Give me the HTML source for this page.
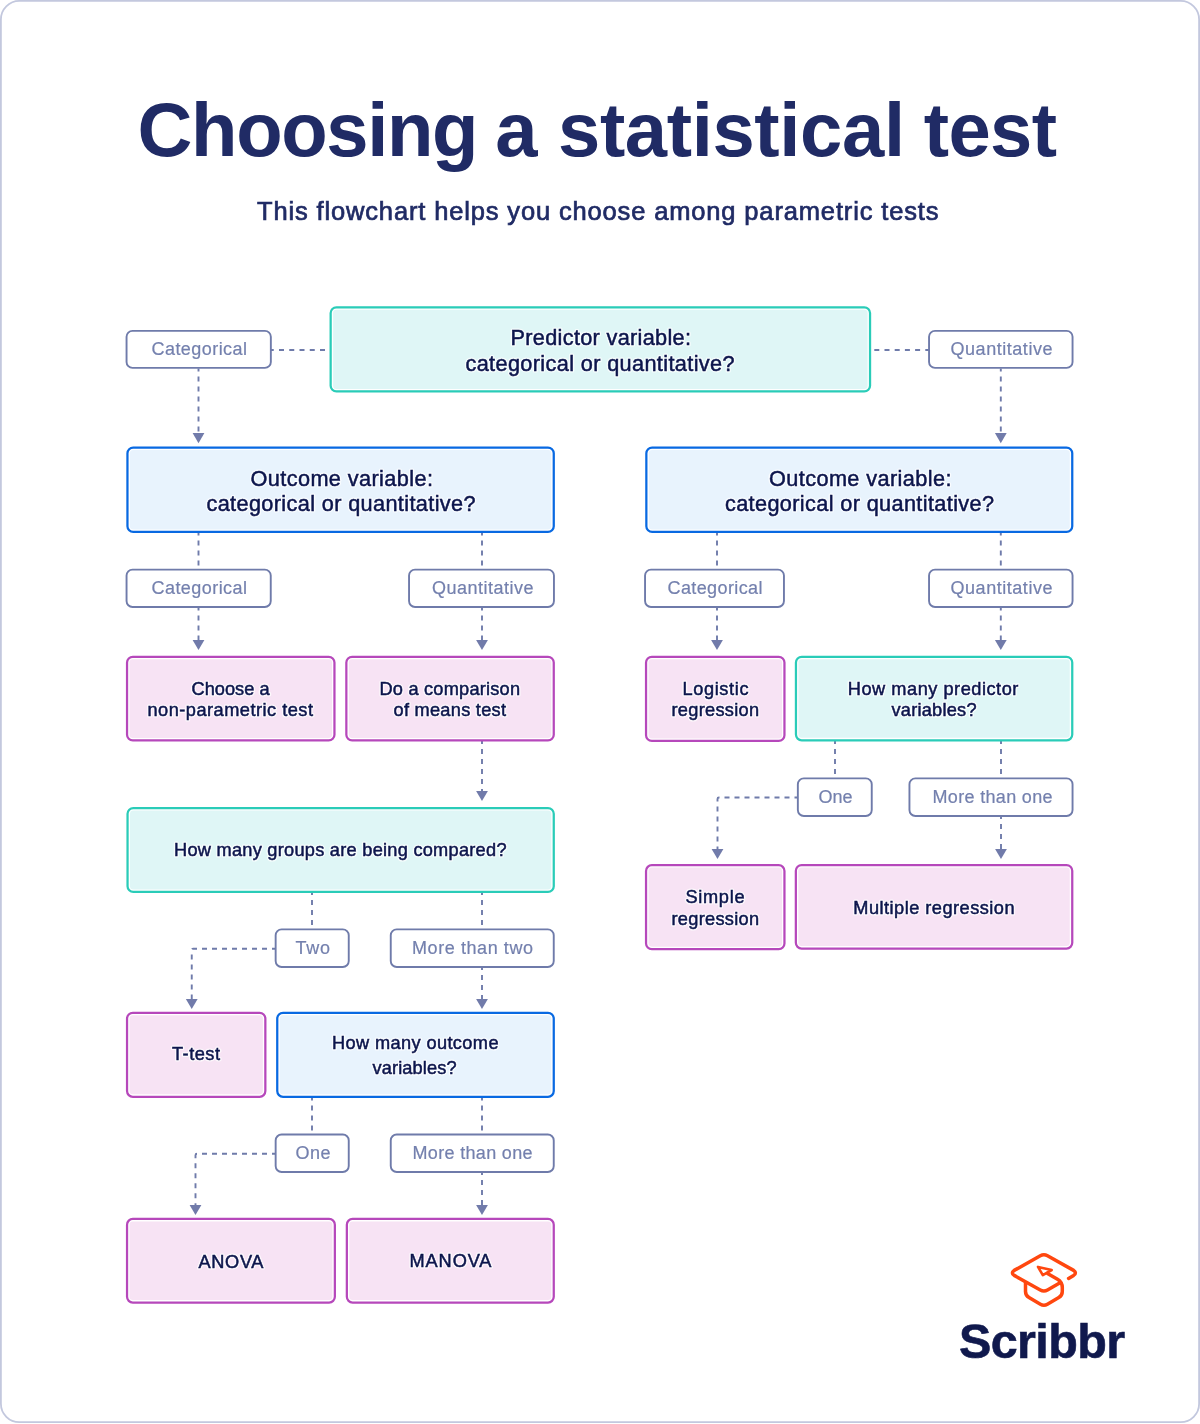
<!DOCTYPE html>
<html><head><meta charset="utf-8"><title>Choosing a statistical test</title>
<style>
html,body{margin:0;padding:0;background:#fff;}
svg{display:block;font-family:"Liberation Sans",sans-serif;will-change:transform;transform:translateZ(0);filter:blur(0.35px);}
.d{fill:none;stroke:#6f7baa;stroke-width:1.9;stroke-dasharray:5 5;stroke-dashoffset:2;}
text{white-space:pre;}
</style></head>
<body>
<svg width="1200" height="1424" viewBox="0 0 1200 1424">
<rect x="0.9" y="0.9" width="1198.2" height="1421.3" rx="18.5" fill="#ffffff" stroke="#c3c8de" stroke-width="1.8"/>
<text x="137.60" y="155.60" font-size="76" font-weight="bold" textLength="340.90" lengthAdjust="spacing" fill="#202b65">Choosing</text>
<text x="495.25" y="155.60" font-size="76" font-weight="bold" textLength="41.25" lengthAdjust="spacing" fill="#202b65">a</text>
<text x="558.00" y="155.60" font-size="76" font-weight="bold" textLength="347.00" lengthAdjust="spacing" fill="#202b65">statistical</text>
<text x="923.80" y="155.60" font-size="76" font-weight="bold" textLength="133.20" lengthAdjust="spacing" fill="#202b65">test</text>
<text x="257.00" y="220.00" font-size="25.5" font-weight="normal" textLength="681.50" lengthAdjust="spacing" fill="#202b65" stroke="#202b65" stroke-width="0.7">This flowchart helps you choose among parametric tests</text>
<path d="M268.75 350H325.2" class="d" style="stroke-dasharray:5 5.25;stroke-dashoffset:0"/>
<path d="M874.3 350H930" class="d" style="stroke-dasharray:5 5.2;stroke-dashoffset:0"/>
<path d="M198.50 368.50V433.70" class="d"/>
<path d="M192.60 433.10H204.40L198.50 443.20Z" fill="#717baa"/>
<path d="M1000.80 368.50V433.70" class="d"/>
<path d="M994.90 433.10H1006.70L1000.80 443.20Z" fill="#717baa"/>
<path d="M198.50 532.50V569.50" class="d"/>
<path d="M198.50 607.50V640.50" class="d"/>
<path d="M192.60 639.90H204.40L198.50 650.00Z" fill="#717baa"/>
<path d="M482.00 532.50V569.50" class="d"/>
<path d="M482.00 607.50V640.50" class="d"/>
<path d="M476.10 639.90H487.90L482.00 650.00Z" fill="#717baa"/>
<path d="M717.00 532.50V569.50" class="d"/>
<path d="M717.00 607.50V640.50" class="d"/>
<path d="M711.10 639.90H722.90L717.00 650.00Z" fill="#717baa"/>
<path d="M1000.80 532.50V569.50" class="d"/>
<path d="M1000.80 607.50V640.50" class="d"/>
<path d="M994.90 639.90H1006.70L1000.80 650.00Z" fill="#717baa"/>
<path d="M482.00 741.00V791.50" class="d"/>
<path d="M476.10 790.90H487.90L482.00 801.00Z" fill="#717baa"/>
<path d="M312.00 892.00V929.00" class="d"/>
<path d="M482.00 892.00V929.00" class="d"/>
<path d="M482.00 967.00V999.50" class="d"/>
<path d="M476.10 998.90H487.90L482.00 1009.00Z" fill="#717baa"/>
<path d="M275.00 948.75H193.25Q191.75 948.75 191.75 950.25V999.50" class="d"/>
<path d="M185.85 998.90H197.65L191.75 1009.00Z" fill="#717baa"/>
<path d="M312.00 1097.50V1134.00" class="d"/>
<path d="M482.00 1097.50V1134.00" class="d"/>
<path d="M482.00 1172.00V1205.50" class="d"/>
<path d="M476.10 1204.90H487.90L482.00 1215.00Z" fill="#717baa"/>
<path d="M275.00 1153.75H197.00Q195.50 1153.75 195.50 1155.25V1205.50" class="d"/>
<path d="M189.60 1204.90H201.40L195.50 1215.00Z" fill="#717baa"/>
<path d="M835.00 741.00V778.00" class="d"/>
<path d="M1001.00 741.00V778.00" class="d"/>
<path d="M1001.00 816.00V849.50" class="d"/>
<path d="M995.10 848.90H1006.90L1001.00 859.00Z" fill="#717baa"/>
<path d="M797.50 797.50H719.00Q717.50 797.50 717.50 799.00V849.50" class="d"/>
<path d="M711.60 848.90H723.40L717.50 859.00Z" fill="#717baa"/>
<rect x="330.65" y="307.35" width="539.40" height="84.10" rx="5.77" fill="#ffffff" stroke="#2accb8" stroke-width="2.25"/>
<rect x="333.13" y="309.83" width="534.45" height="79.15" rx="3.30" fill="#dff6f6"/>
<rect x="127.55" y="808.05" width="426.20" height="83.90" rx="5.77" fill="#ffffff" stroke="#2accb8" stroke-width="2.25"/>
<rect x="130.03" y="810.52" width="421.25" height="78.95" rx="3.30" fill="#dff6f6"/>
<rect x="795.95" y="656.85" width="276.30" height="83.50" rx="5.77" fill="#ffffff" stroke="#2accb8" stroke-width="2.25"/>
<rect x="798.42" y="659.32" width="271.35" height="78.55" rx="3.30" fill="#dff6f6"/>
<rect x="127.45" y="447.55" width="426.30" height="84.40" rx="5.77" fill="#ffffff" stroke="#0869e2" stroke-width="2.25"/>
<rect x="129.93" y="450.03" width="421.35" height="79.45" rx="3.30" fill="#e8f3fd"/>
<rect x="646.35" y="447.55" width="425.90" height="84.40" rx="5.77" fill="#ffffff" stroke="#0869e2" stroke-width="2.25"/>
<rect x="648.82" y="450.03" width="420.95" height="79.45" rx="3.30" fill="#e8f3fd"/>
<rect x="277.25" y="1012.85" width="276.50" height="84.00" rx="5.77" fill="#ffffff" stroke="#0869e2" stroke-width="2.25"/>
<rect x="279.73" y="1015.32" width="271.55" height="79.05" rx="3.30" fill="#e8f3fd"/>
<rect x="127.05" y="656.85" width="207.40" height="83.60" rx="5.77" fill="#ffffff" stroke="#b648bb" stroke-width="2.25"/>
<rect x="129.53" y="659.32" width="202.45" height="78.65" rx="3.30" fill="#f7e3f4"/>
<rect x="346.35" y="656.85" width="207.40" height="83.60" rx="5.77" fill="#ffffff" stroke="#b648bb" stroke-width="2.25"/>
<rect x="348.83" y="659.32" width="202.45" height="78.65" rx="3.30" fill="#f7e3f4"/>
<rect x="646.05" y="656.85" width="138.40" height="84.10" rx="5.77" fill="#ffffff" stroke="#b648bb" stroke-width="2.25"/>
<rect x="648.52" y="659.32" width="133.45" height="79.15" rx="3.30" fill="#f7e3f4"/>
<rect x="646.05" y="865.15" width="138.40" height="84.00" rx="5.77" fill="#ffffff" stroke="#b648bb" stroke-width="2.25"/>
<rect x="648.52" y="867.62" width="133.45" height="79.05" rx="3.30" fill="#f7e3f4"/>
<rect x="795.85" y="865.05" width="276.40" height="83.50" rx="5.77" fill="#ffffff" stroke="#b648bb" stroke-width="2.25"/>
<rect x="798.32" y="867.52" width="271.45" height="78.55" rx="3.30" fill="#f7e3f4"/>
<rect x="127.05" y="1012.85" width="138.30" height="84.00" rx="5.77" fill="#ffffff" stroke="#b648bb" stroke-width="2.25"/>
<rect x="129.53" y="1015.32" width="133.35" height="79.05" rx="3.30" fill="#f7e3f4"/>
<rect x="127.05" y="1218.95" width="207.80" height="83.60" rx="5.77" fill="#ffffff" stroke="#b648bb" stroke-width="2.25"/>
<rect x="129.53" y="1221.42" width="202.85" height="78.65" rx="3.30" fill="#f7e3f4"/>
<rect x="346.85" y="1218.95" width="206.90" height="83.60" rx="5.77" fill="#ffffff" stroke="#b648bb" stroke-width="2.25"/>
<rect x="349.33" y="1221.42" width="201.95" height="78.65" rx="3.30" fill="#f7e3f4"/>
<rect x="126.55" y="330.85" width="144.30" height="37.00" rx="5.95" fill="#ffffff" stroke="#6f7baa" stroke-width="1.9"/>
<rect x="929.05" y="330.85" width="143.50" height="37.00" rx="5.95" fill="#ffffff" stroke="#6f7baa" stroke-width="1.9"/>
<rect x="126.55" y="569.65" width="144.20" height="37.30" rx="5.95" fill="#ffffff" stroke="#6f7baa" stroke-width="1.9"/>
<rect x="409.05" y="569.65" width="144.90" height="37.30" rx="5.95" fill="#ffffff" stroke="#6f7baa" stroke-width="1.9"/>
<rect x="645.05" y="569.65" width="138.90" height="37.30" rx="5.95" fill="#ffffff" stroke="#6f7baa" stroke-width="1.9"/>
<rect x="929.05" y="569.65" width="143.50" height="37.30" rx="5.95" fill="#ffffff" stroke="#6f7baa" stroke-width="1.9"/>
<rect x="275.65" y="929.35" width="73.10" height="37.60" rx="5.95" fill="#ffffff" stroke="#6f7baa" stroke-width="1.9"/>
<rect x="390.75" y="929.35" width="163.00" height="37.60" rx="5.95" fill="#ffffff" stroke="#6f7baa" stroke-width="1.9"/>
<rect x="797.85" y="778.35" width="73.90" height="37.60" rx="5.95" fill="#ffffff" stroke="#6f7baa" stroke-width="1.9"/>
<rect x="909.45" y="778.35" width="163.10" height="37.60" rx="5.95" fill="#ffffff" stroke="#6f7baa" stroke-width="1.9"/>
<rect x="275.65" y="1134.55" width="73.10" height="37.40" rx="5.95" fill="#ffffff" stroke="#6f7baa" stroke-width="1.9"/>
<rect x="390.75" y="1134.55" width="163.00" height="37.40" rx="5.95" fill="#ffffff" stroke="#6f7baa" stroke-width="1.9"/>
<text x="510.50" y="345.10" font-size="21.7" font-weight="normal" textLength="180.50" lengthAdjust="spacing" fill="none" stroke="#ffffff" stroke-opacity="0.75" stroke-width="3.2" stroke-linejoin="round">Predictor variable:</text>
<text x="510.50" y="345.10" font-size="21.7" font-weight="normal" textLength="180.50" lengthAdjust="spacing" fill="#0c154c" stroke="#0c154c" stroke-width="0.5">Predictor variable:</text>
<text x="465.50" y="371.10" font-size="21.7" font-weight="normal" textLength="269.00" lengthAdjust="spacing" fill="none" stroke="#ffffff" stroke-opacity="0.75" stroke-width="3.2" stroke-linejoin="round">categorical or quantitative?</text>
<text x="465.50" y="371.10" font-size="21.7" font-weight="normal" textLength="269.00" lengthAdjust="spacing" fill="#0c154c" stroke="#0c154c" stroke-width="0.5">categorical or quantitative?</text>
<text x="250.50" y="486.00" font-size="21.7" font-weight="normal" textLength="182.50" lengthAdjust="spacing" fill="none" stroke="#ffffff" stroke-opacity="0.75" stroke-width="3.2" stroke-linejoin="round">Outcome variable:</text>
<text x="250.50" y="486.00" font-size="21.7" font-weight="normal" textLength="182.50" lengthAdjust="spacing" fill="#0c154c" stroke="#0c154c" stroke-width="0.5">Outcome variable:</text>
<text x="206.50" y="511.00" font-size="21.7" font-weight="normal" textLength="269.00" lengthAdjust="spacing" fill="none" stroke="#ffffff" stroke-opacity="0.75" stroke-width="3.2" stroke-linejoin="round">categorical or quantitative?</text>
<text x="206.50" y="511.00" font-size="21.7" font-weight="normal" textLength="269.00" lengthAdjust="spacing" fill="#0c154c" stroke="#0c154c" stroke-width="0.5">categorical or quantitative?</text>
<text x="769.00" y="486.00" font-size="21.7" font-weight="normal" textLength="182.50" lengthAdjust="spacing" fill="none" stroke="#ffffff" stroke-opacity="0.75" stroke-width="3.2" stroke-linejoin="round">Outcome variable:</text>
<text x="769.00" y="486.00" font-size="21.7" font-weight="normal" textLength="182.50" lengthAdjust="spacing" fill="#0c154c" stroke="#0c154c" stroke-width="0.5">Outcome variable:</text>
<text x="725.00" y="511.00" font-size="21.7" font-weight="normal" textLength="269.00" lengthAdjust="spacing" fill="none" stroke="#ffffff" stroke-opacity="0.75" stroke-width="3.2" stroke-linejoin="round">categorical or quantitative?</text>
<text x="725.00" y="511.00" font-size="21.7" font-weight="normal" textLength="269.00" lengthAdjust="spacing" fill="#0c154c" stroke="#0c154c" stroke-width="0.5">categorical or quantitative?</text>
<text x="151.50" y="355.00" font-size="18" font-weight="normal" textLength="95.50" lengthAdjust="spacing" fill="#7480ae" stroke="#7480ae" stroke-width="0.2">Categorical</text>
<text x="950.50" y="355.20" font-size="18" font-weight="normal" textLength="102.00" lengthAdjust="spacing" fill="#7480ae" stroke="#7480ae" stroke-width="0.2">Quantitative</text>
<text x="151.50" y="594.25" font-size="18" font-weight="normal" textLength="95.50" lengthAdjust="spacing" fill="#7480ae" stroke="#7480ae" stroke-width="0.2">Categorical</text>
<text x="432.00" y="594.25" font-size="18" font-weight="normal" textLength="101.50" lengthAdjust="spacing" fill="#7480ae" stroke="#7480ae" stroke-width="0.2">Quantitative</text>
<text x="667.50" y="594.25" font-size="18" font-weight="normal" textLength="95.00" lengthAdjust="spacing" fill="#7480ae" stroke="#7480ae" stroke-width="0.2">Categorical</text>
<text x="950.50" y="594.25" font-size="18" font-weight="normal" textLength="102.00" lengthAdjust="spacing" fill="#7480ae" stroke="#7480ae" stroke-width="0.2">Quantitative</text>
<text x="295.50" y="953.75" font-size="18" font-weight="normal" textLength="34.50" lengthAdjust="spacing" fill="#7480ae" stroke="#7480ae" stroke-width="0.2">Two</text>
<text x="412.00" y="953.75" font-size="18" font-weight="normal" textLength="121.00" lengthAdjust="spacing" fill="#7480ae" stroke="#7480ae" stroke-width="0.2">More than two</text>
<text x="818.50" y="803.00" font-size="18" font-weight="normal" textLength="34.00" lengthAdjust="spacing" fill="#7480ae" stroke="#7480ae" stroke-width="0.2">One</text>
<text x="932.50" y="803.00" font-size="18" font-weight="normal" textLength="120.00" lengthAdjust="spacing" fill="#7480ae" stroke="#7480ae" stroke-width="0.2">More than one</text>
<text x="295.50" y="1159.25" font-size="18" font-weight="normal" textLength="35.00" lengthAdjust="spacing" fill="#7480ae" stroke="#7480ae" stroke-width="0.2">One</text>
<text x="412.50" y="1159.25" font-size="18" font-weight="normal" textLength="120.00" lengthAdjust="spacing" fill="#7480ae" stroke="#7480ae" stroke-width="0.2">More than one</text>
<text x="191.50" y="694.70" font-size="18.2" font-weight="normal" textLength="78.00" lengthAdjust="spacing" fill="none" stroke="#ffffff" stroke-opacity="0.75" stroke-width="3.2" stroke-linejoin="round">Choose a</text>
<text x="191.50" y="694.70" font-size="18.2" font-weight="normal" textLength="78.00" lengthAdjust="spacing" fill="#0c154c" stroke="#0c154c" stroke-width="0.5">Choose a</text>
<text x="147.50" y="716.45" font-size="18.2" font-weight="normal" textLength="165.50" lengthAdjust="spacing" fill="none" stroke="#ffffff" stroke-opacity="0.75" stroke-width="3.2" stroke-linejoin="round">non-parametric test</text>
<text x="147.50" y="716.45" font-size="18.2" font-weight="normal" textLength="165.50" lengthAdjust="spacing" fill="#0c154c" stroke="#0c154c" stroke-width="0.5">non-parametric test</text>
<text x="379.50" y="694.70" font-size="18.2" font-weight="normal" textLength="140.50" lengthAdjust="spacing" fill="none" stroke="#ffffff" stroke-opacity="0.75" stroke-width="3.2" stroke-linejoin="round">Do a comparison</text>
<text x="379.50" y="694.70" font-size="18.2" font-weight="normal" textLength="140.50" lengthAdjust="spacing" fill="#0c154c" stroke="#0c154c" stroke-width="0.5">Do a comparison</text>
<text x="393.50" y="716.45" font-size="18.2" font-weight="normal" textLength="112.50" lengthAdjust="spacing" fill="none" stroke="#ffffff" stroke-opacity="0.75" stroke-width="3.2" stroke-linejoin="round">of means test</text>
<text x="393.50" y="716.45" font-size="18.2" font-weight="normal" textLength="112.50" lengthAdjust="spacing" fill="#0c154c" stroke="#0c154c" stroke-width="0.5">of means test</text>
<text x="682.50" y="694.70" font-size="18.2" font-weight="normal" textLength="66.00" lengthAdjust="spacing" fill="none" stroke="#ffffff" stroke-opacity="0.75" stroke-width="3.2" stroke-linejoin="round">Logistic</text>
<text x="682.50" y="694.70" font-size="18.2" font-weight="normal" textLength="66.00" lengthAdjust="spacing" fill="#0c154c" stroke="#0c154c" stroke-width="0.5">Logistic</text>
<text x="671.50" y="716.45" font-size="18.2" font-weight="normal" textLength="87.50" lengthAdjust="spacing" fill="none" stroke="#ffffff" stroke-opacity="0.75" stroke-width="3.2" stroke-linejoin="round">regression</text>
<text x="671.50" y="716.45" font-size="18.2" font-weight="normal" textLength="87.50" lengthAdjust="spacing" fill="#0c154c" stroke="#0c154c" stroke-width="0.5">regression</text>
<text x="847.80" y="694.90" font-size="18.2" font-weight="normal" textLength="170.60" lengthAdjust="spacing" fill="none" stroke="#ffffff" stroke-opacity="0.75" stroke-width="3.2" stroke-linejoin="round">How many predictor</text>
<text x="847.80" y="694.90" font-size="18.2" font-weight="normal" textLength="170.60" lengthAdjust="spacing" fill="#0c154c" stroke="#0c154c" stroke-width="0.5">How many predictor</text>
<text x="891.50" y="716.40" font-size="18.2" font-weight="normal" textLength="85.00" lengthAdjust="spacing" fill="none" stroke="#ffffff" stroke-opacity="0.75" stroke-width="3.2" stroke-linejoin="round">variables?</text>
<text x="891.50" y="716.40" font-size="18.2" font-weight="normal" textLength="85.00" lengthAdjust="spacing" fill="#0c154c" stroke="#0c154c" stroke-width="0.5">variables?</text>
<text x="174.00" y="856.20" font-size="18.2" font-weight="normal" textLength="332.50" lengthAdjust="spacing" fill="none" stroke="#ffffff" stroke-opacity="0.75" stroke-width="3.2" stroke-linejoin="round">How many groups are being compared?</text>
<text x="174.00" y="856.20" font-size="18.2" font-weight="normal" textLength="332.50" lengthAdjust="spacing" fill="#0c154c" stroke="#0c154c" stroke-width="0.5">How many groups are being compared?</text>
<text x="685.50" y="903.20" font-size="18.2" font-weight="normal" textLength="59.00" lengthAdjust="spacing" fill="none" stroke="#ffffff" stroke-opacity="0.75" stroke-width="3.2" stroke-linejoin="round">Simple</text>
<text x="685.50" y="903.20" font-size="18.2" font-weight="normal" textLength="59.00" lengthAdjust="spacing" fill="#0c154c" stroke="#0c154c" stroke-width="0.5">Simple</text>
<text x="671.50" y="924.70" font-size="18.2" font-weight="normal" textLength="87.50" lengthAdjust="spacing" fill="none" stroke="#ffffff" stroke-opacity="0.75" stroke-width="3.2" stroke-linejoin="round">regression</text>
<text x="671.50" y="924.70" font-size="18.2" font-weight="normal" textLength="87.50" lengthAdjust="spacing" fill="#0c154c" stroke="#0c154c" stroke-width="0.5">regression</text>
<text x="853.25" y="914.45" font-size="18.2" font-weight="normal" textLength="161.25" lengthAdjust="spacing" fill="none" stroke="#ffffff" stroke-opacity="0.75" stroke-width="3.2" stroke-linejoin="round">Multiple regression</text>
<text x="853.25" y="914.45" font-size="18.2" font-weight="normal" textLength="161.25" lengthAdjust="spacing" fill="#0c154c" stroke="#0c154c" stroke-width="0.5">Multiple regression</text>
<text x="172.00" y="1060.20" font-size="18.2" font-weight="normal" textLength="48.00" lengthAdjust="spacing" fill="none" stroke="#ffffff" stroke-opacity="0.75" stroke-width="3.2" stroke-linejoin="round">T-test</text>
<text x="172.00" y="1060.20" font-size="18.2" font-weight="normal" textLength="48.00" lengthAdjust="spacing" fill="#0c154c" stroke="#0c154c" stroke-width="0.5">T-test</text>
<text x="332.00" y="1049.45" font-size="18.2" font-weight="normal" textLength="166.50" lengthAdjust="spacing" fill="none" stroke="#ffffff" stroke-opacity="0.75" stroke-width="3.2" stroke-linejoin="round">How many outcome</text>
<text x="332.00" y="1049.45" font-size="18.2" font-weight="normal" textLength="166.50" lengthAdjust="spacing" fill="#0c154c" stroke="#0c154c" stroke-width="0.5">How many outcome</text>
<text x="372.50" y="1073.95" font-size="18.2" font-weight="normal" textLength="84.00" lengthAdjust="spacing" fill="none" stroke="#ffffff" stroke-opacity="0.75" stroke-width="3.2" stroke-linejoin="round">variables?</text>
<text x="372.50" y="1073.95" font-size="18.2" font-weight="normal" textLength="84.00" lengthAdjust="spacing" fill="#0c154c" stroke="#0c154c" stroke-width="0.5">variables?</text>
<text x="198.50" y="1267.50" font-size="18.2" font-weight="normal" textLength="65.00" lengthAdjust="spacing" fill="none" stroke="#ffffff" stroke-opacity="0.75" stroke-width="3.2" stroke-linejoin="round">ANOVA</text>
<text x="198.50" y="1267.50" font-size="18.2" font-weight="normal" textLength="65.00" lengthAdjust="spacing" fill="#0c154c" stroke="#0c154c" stroke-width="0.5">ANOVA</text>
<text x="409.50" y="1267.20" font-size="18.2" font-weight="normal" textLength="82.00" lengthAdjust="spacing" fill="none" stroke="#ffffff" stroke-opacity="0.75" stroke-width="3.2" stroke-linejoin="round">MANOVA</text>
<text x="409.50" y="1267.20" font-size="18.2" font-weight="normal" textLength="82.00" lengthAdjust="spacing" fill="#0c154c" stroke="#0c154c" stroke-width="0.5">MANOVA</text>
<g fill="none" stroke="#ff470f" stroke-width="3.5" stroke-linecap="round" stroke-linejoin="round">
<path d="M1068.6 1278.4L1073.6 1275.4Q1077.2 1272.9 1073.6 1270.4L1047.5 1255.8Q1043.9 1253.8 1040.3 1255.8L1014.2 1270.4Q1010.6 1272.9 1014.2 1275.4L1040.3 1290.0Q1043.9 1292.0 1047.5 1290.0L1060.5 1282.6"/>
<path d="M1025.5 1282.5V1291.5Q1025.5 1295.5 1029 1297.6L1040.4 1304.2Q1043.9 1306.2 1047.4 1304.2L1058.8 1297.6Q1062.3 1295.5 1062.3 1291.5V1287.5Q1062.3 1282 1057.5 1279.2L1047.5 1273.4"/>
<path d="M1038.0 1266.9L1051.7 1270.0L1042.8 1275.1Z" stroke-width="2.6"/>
</g>
<text x="959.00" y="1358.00" font-size="48.5" font-weight="bold" textLength="166.00" lengthAdjust="spacing" fill="#10194d" stroke="#10194d" stroke-width="0.6">Scribbr</text>
</svg>
</body></html>
